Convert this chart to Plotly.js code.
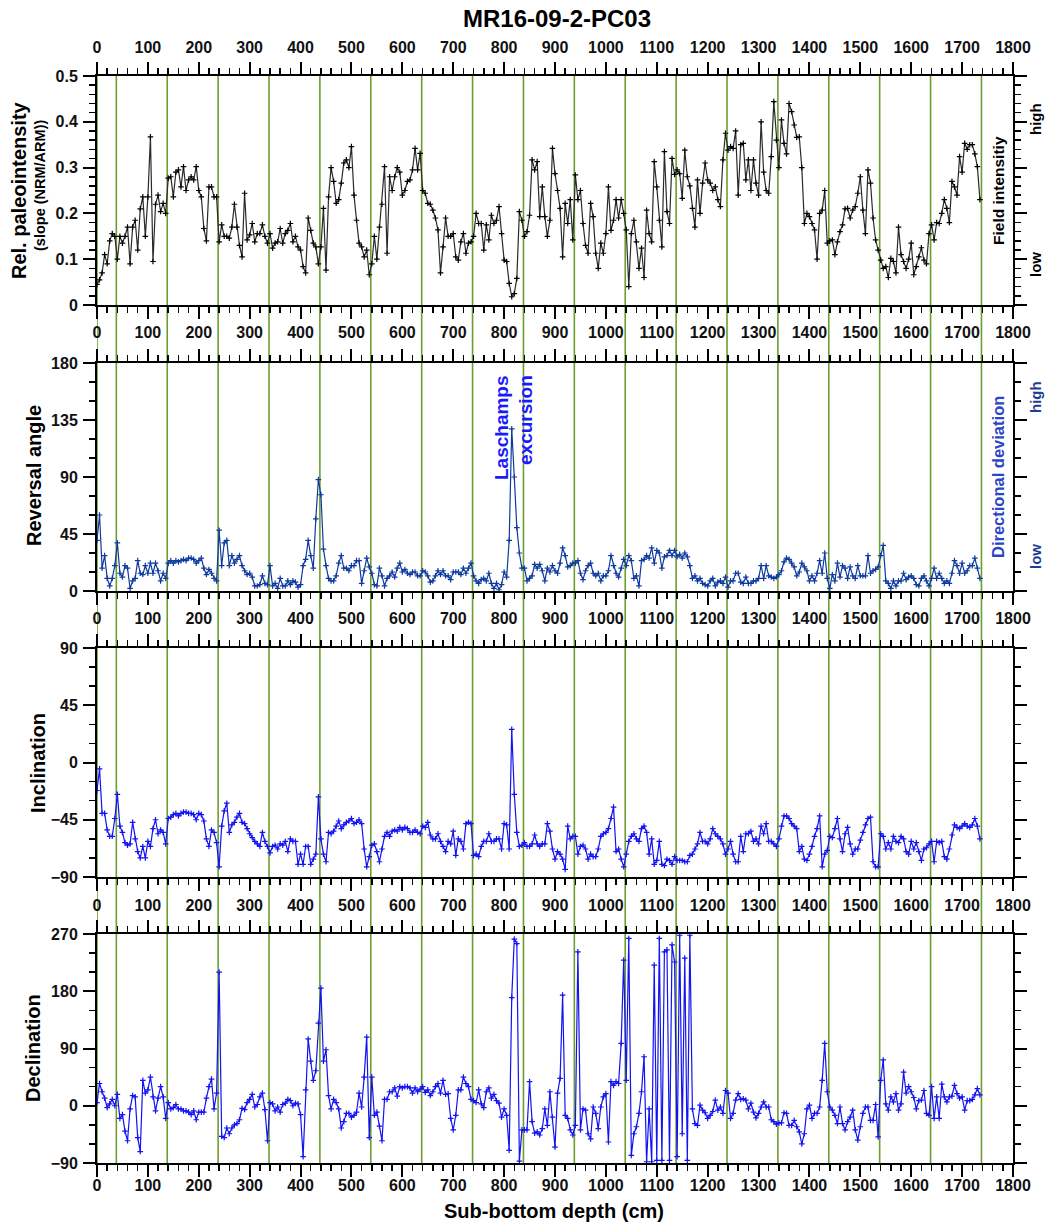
<!DOCTYPE html>
<html><head><meta charset="utf-8">
<script src="https://cdn.plot.ly/plotly-3.0.1.min.js"></script>
<style>html,body{margin:0;padding:0;background:#fff}</style>
</head><body><div id="chart" style="width:1046px;height:1224px"></div>
<script>
// depth sampling (cm): first sample and spacing
const depthStart = 0;
const depthStep = 5;

// Relative paleointensity (slope NRM/ARM)
const rpi = [
0.045,0.055,0.07,0.11,0.09,0.14,0.156,0.15,0.10,0.15,0.135,0.15,0.17,0.09,0.17,0.185,0.12,0.21,0.236,0.15,
0.236,0.367,0.095,0.22,0.24,0.204,0.222,0.2,0.277,0.28,0.236,0.29,0.295,0.258,0.302,0.25,0.273,0.28,0.273,0.302,
0.25,0.236,0.167,0.14,0.258,0.258,0.236,0.236,0.138,0.175,0.15,0.15,0.146,0.17,0.22,0.17,0.13,0.105,0.244,0.142,
0.153,0.178,0.138,0.156,0.156,0.175,0.15,0.135,0.156,0.124,0.135,0.138,0.167,0.135,0.156,0.163,0.178,0.138,0.15,0.127,
0.12,0.084,0.07,0.19,0.163,0.135,0.127,0.09,0.127,0.211,0.076,0.236,0.30,0.27,0.222,0.23,0.266,0.31,0.317,0.30,
0.346,0.24,0.185,0.135,0.127,0.105,0.12,0.066,0.09,0.15,0.10,0.17,0.22,0.302,0.113,0.28,0.25,0.28,0.30,0.29,
0.24,0.25,0.27,0.273,0.295,0.342,0.295,0.331,0.25,0.244,0.222,0.22,0.207,0.19,0.164,0.07,0.127,0.19,0.15,0.15,
0.156,0.105,0.098,0.138,0.156,0.113,0.135,0.138,0.15,0.2,0.178,0.178,0.12,0.175,0.142,0.196,0.178,0.185,0.215,0.156,
0.098,0.095,0.047,0.018,0.025,0.058,0.204,0.185,0.15,0.16,0.196,0.317,0.295,0.313,0.193,0.258,0.193,0.15,0.185,0.342,
0.287,0.25,0.211,0.105,0.222,0.178,0.23,0.142,0.284,0.23,0.25,0.178,0.13,0.113,0.222,0.193,0.113,0.08,0.135,0.113,
0.156,0.258,0.163,0.185,0.23,0.19,0.23,0.2,0.164,0.04,0.156,0.185,0.138,0.08,0.124,0.06,0.207,0.156,0.138,0.313,
0.258,0.185,0.127,0.335,0.204,0.178,0.32,0.285,0.295,0.287,0.233,0.338,0.28,0.26,0.211,0.17,0.273,0.2,0.266,0.31,
0.273,0.266,0.25,0.258,0.23,0.215,0.317,0.375,0.338,0.346,0.342,0.38,0.24,0.35,0.353,0.273,0.317,0.25,0.317,0.266,
0.24,0.40,0.29,0.25,0.244,0.324,0.444,0.36,0.30,0.404,0.353,0.33,0.44,0.422,0.393,0.366,0.367,0.30,0.178,0.2,
0.193,0.178,0.164,0.10,0.2,0.207,0.25,0.135,0.14,0.142,0.11,0.138,0.16,0.175,0.21,0.211,0.19,0.207,0.215,0.244,
0.28,0.207,0.156,0.295,0.266,0.19,0.142,0.12,0.098,0.08,0.084,0.06,0.102,0.095,0.07,0.17,0.11,0.095,0.08,0.10,
0.135,0.066,0.084,0.105,0.125,0.098,0.09,0.156,0.175,0.142,0.18,0.178,0.2,0.23,0.211,0.18,0.27,0.258,0.24,0.324,
0.29,0.353,0.34,0.35,0.35,0.33,0.302,0.23
];

// Reversal angle (deg)
const reversalAngle = [
40,60,18,28,10,4,10,20,38,14,11,20,18,2,8,10,24,14,13,20,
14,22,14,22,16,8,14,10,22,24,22,24,23,24,25,24,26,26,25,22,
24,26,18,13,17,14,10,8,48,20,38,40,20,28,22,25,28,20,16,13,
14,11,4,4,5,12,6,5,20,4,6,2,10,4,4,8,5,8,7,3,
5,20,25,40,28,18,57,88,76,33,20,10,8,8,12,22,28,18,18,16,
20,20,24,24,6,16,26,19,14,5,4,18,12,4,10,12,15,11,18,22,
15,17,14,13,15,15,12,12,16,15,12,7,8,12,16,13,16,12,12,9,
15,15,15,13,18,14,18,22,12,8,6,9,10,8,14,6,2,6,1,5,
15,11,40,128,90,50,30,18,18,8,10,12,21,18,21,16,8,18,15,20,
16,14,22,34,28,19,20,22,22,24,14,9,16,20,22,14,12,14,8,12,
12,16,28,20,14,11,18,25,20,28,24,10,12,4,24,25,28,26,34,22,
32,30,18,27,28,32,28,32,27,29,26,30,27,20,10,12,8,10,6,5,
4,8,10,4,7,8,6,11,3,8,8,14,14,7,6,11,6,6,8,8,
10,20,10,20,12,11,10,11,13,16,23,26,25,22,19,12,15,22,19,16,
8,12,8,14,24,14,30,10,2,13,8,22,11,20,18,10,19,12,10,20,
12,12,12,28,14,16,17,19,28,36,8,6,2,8,4,8,8,14,9,11,
12,10,5,4,10,12,8,4,10,18,10,14,10,6,8,6,14,24,20,14,
22,14,16,20,20,26,18,10
];

// Inclination (deg)
const inclination = [
-22,-5,-40,-40,-53,-58,-58,-44,-25,-50,-55,-63,-65,-64,-47,-60,-70,-75,-66,-75,
-62,-66,-52,-45,-56,-53,-55,-64,-44,-43,-41,-40,-42,-40,-39,-39,-40,-40,-41,-45,
-40,-41,-46,-60,-66,-53,-55,-63,-82,-50,-38,-32,-55,-49,-47,-43,-40,-47,-48,-52,
-56,-59,-62,-64,-66,-55,-62,-66,-71,-66,-65,-68,-64,-65,-62,-70,-60,-62,-62,-80,
-72,-80,-66,-66,-80,-76,-72,-27,-60,-72,-78,-55,-56,-54,-50,-46,-52,-49,-47,-46,
-44,-48,-47,-45,-48,-68,-82,-74,-65,-64,-70,-78,-68,-58,-55,-58,-54,-53,-54,-51,
-53,-51,-52,-55,-55,-53,-55,-56,-50,-51,-47,-57,-60,-60,-56,-62,-66,-70,-62,-64,
-54,-73,-60,-62,-68,-48,-47,-48,-73,-72,-74,-66,-62,-62,-56,-62,-62,-60,-60,-68,
-48,-49,-68,26,-25,-55,-66,-65,-63,-66,-66,-64,-57,-64,-66,-64,-64,-48,-54,-68,
-76,-70,-72,-76,-84,-50,-60,-58,-58,-72,-66,-65,-68,-76,-72,-74,-74,-68,-58,-56,
-55,-52,-44,-35,-70,-68,-76,-82,-72,-62,-58,-56,-60,-62,-52,-50,-55,-72,-60,-80,
-77,-62,-80,-81,-76,-77,-80,-74,-77,-77,-77,-78,-78,-73,-72,-68,-64,-55,-62,-62,
-64,-60,-52,-56,-58,-60,-64,-72,-68,-62,-72,-78,-78,-58,-70,-56,-56,-54,-62,-60,
-64,-50,-56,-48,-62,-62,-64,-66,-60,-50,-42,-42,-44,-48,-50,-52,-70,-66,-76,-77,
-72,-66,-58,-52,-42,-82,-72,-69,-58,-59,-52,-44,-60,-70,-56,-51,-64,-72,-68,-68,
-61,-55,-49,-44,-43,-78,-82,-82,-56,-58,-68,-63,-68,-58,-62,-63,-58,-60,-70,-72,
-62,-68,-63,-70,-77,-68,-67,-64,-62,-78,-62,-63,-62,-74,-76,-68,-57,-49,-51,-52,
-50,-48,-50,-51,-49,-44,-50,-60
];

// Declination (deg)
const declination = [
5,35,22,12,-3,3,10,0,18,-20,-14,-40,-55,-5,16,14,-50,-72,40,20,
25,45,14,-8,12,30,14,-20,5,-5,-3,2,-5,-5,-8,-8,-10,-14,-8,-22,
-10,-10,-10,12,30,42,-5,20,210,-48,-50,-35,-44,-35,-30,-28,-22,-4,-6,5,
10,18,-2,2,14,20,-6,-55,5,3,-8,-2,-10,2,4,10,8,0,4,3,
-14,-80,25,105,70,40,55,130,185,70,88,16,-5,10,5,-5,-35,-25,-12,-12,
-18,-15,-10,20,-2,45,108,-50,45,-15,-10,-32,-55,10,10,22,22,28,15,30,
28,30,30,28,20,28,22,26,30,21,25,16,22,30,35,20,40,18,19,-20,
-38,-15,25,25,45,35,30,10,8,5,25,3,-3,22,28,12,18,8,4,-18,
-5,-15,-70,170,262,255,-87,-38,-38,-38,38,-25,-43,-41,-46,-36,-5,-31,22,-18,
-65,20,43,174,-15,-20,-38,-46,-31,242,-38,-5,-7,-44,-52,-2,-12,-36,-2,14,
19,-57,38,32,38,35,98,229,40,263,-78,-44,-33,-12,22,77,-88,-5,-88,221,
-86,263,-86,242,245,-86,253,226,-80,268,-44,232,-86,268,-5,-28,-31,1,-7,-11,
-20,-15,-9,9,-7,-2,-12,24,20,-20,-12,9,19,10,11,9,-5,4,-10,-19,
-12,-2,6,-2,-2,-22,-25,-29,-27,-27,-11,-12,-31,-31,-23,-33,-41,-60,-44,-5,
1,-20,-12,-12,-2,40,98,22,-2,-7,-15,-28,-2,-28,-38,-25,-18,-7,-38,-54,
-33,-12,-2,-2,-23,-23,2,-49,40,72,3,-7,14,6,19,-7,3,53,20,30,
22,13,-5,8,9,24,-12,-15,30,-20,14,-20,34,14,6,14,15,32,19,12,
14,-7,8,8,10,17,27,17
];

// core section boundaries (cm)
const sectionBoundaries = [0,38,138,238,338,438,538,638,738,838,938,1038,1138,1238,1338,1438,1538,1638,1738];

const W = 1046, H = 1224, ML = 97, MR = 33, MT = 76, MB = 61;
const PW = W - ML - MR, PH = H - MT - MB;
const fx = p => (p - ML) / PW;
const fy = p => (H - MB - p) / PH;

const AF = 'Liberation Sans, Arial, Helvetica, sans-serif';
const TF = {family: AF, size: 16, color: '#111', weight: 'bold'};

function xAxis(anchor, labels, extra) {
  return Object.assign({
    range: [0, 1800], domain: [0, 1], anchor: anchor, side: 'bottom',
    showline: true, linecolor: '#000', linewidth: 2, mirror: 'ticks',
    ticks: 'outside', ticklen: 12, tickwidth: 2, tickcolor: '#000', dtick: 100, tick0: 0,
    minor: {dtick: 20, tick0: 0, ticks: 'outside', ticklen: 6, tickwidth: 1.5, tickcolor: '#000', showgrid: false},
    showgrid: false, zeroline: false, showticklabels: labels, tickfont: TF, fixedrange: true
  }, extra || {});
}
function yAxis(anchor, domain, range, dtick, mdtick, extra) {
  return Object.assign({
    domain: domain, range: range, anchor: anchor,
    showline: true, linecolor: '#000', linewidth: 2, mirror: 'ticks',
    ticks: 'outside', ticklen: 12, tickwidth: 2, tickcolor: '#000', dtick: dtick, tick0: 0,
    minor: {dtick: mdtick, tick0: 0, ticks: 'outside', ticklen: 6, tickwidth: 1.5, tickcolor: '#000', showgrid: false},
    showgrid: false, zeroline: false, tickfont: TF, ticklabelstandoff: 2, fixedrange: true
  }, extra || {});
}

function series(y, xa, ya, color, lineColor) {
  return {
    type: 'scatter', mode: 'lines+markers', x0: depthStart, dx: depthStep, y: y,
    xaxis: xa, yaxis: ya, cliponaxis: true,
    line: {color: lineColor || color, width: 1.2},
    marker: {symbol: 'cross-thin', size: 4, color: color, line: {color: color, width: 1.2}},
    hoverinfo: 'skip', showlegend: false
  };
}

const BLUE = '#1212f2', NAVY = '#0e3a9e';

const data = [
  series(rpi, 'x', 'y', '#000', '#2a2a2a'),
  series(reversalAngle, 'x2', 'y2', NAVY),
  series(inclination, 'x3', 'y3', BLUE),
  series(declination, 'x4', 'y4', BLUE),
  {type: 'scatter', x: [null], y: [null], xaxis: 'x5', yaxis: 'y', showlegend: false, hoverinfo: 'skip'},
  {type: 'scatter', x: [null], y: [null], xaxis: 'x6', yaxis: 'y4', showlegend: false, hoverinfo: 'skip'}
];

function rot(text, x, y, size, color) {
  return {text: text, xref: 'paper', yref: 'paper', x: fx(x), y: fy(y),
    xanchor: 'center', yanchor: 'middle', textangle: -90, showarrow: false,
    font: {family: AF, size: size, color: color || '#000', weight: 'bold'}};
}

const d1 = [fy(305), 1], d2 = [fy(591), fy(363)], d3 = [fy(877), fy(648)], d4 = [0, fy(934)];

const layout = {
  width: W, height: H, margin: {l: ML, r: MR, t: MT, b: MB},
  paper_bgcolor: '#fff', plot_bgcolor: 'rgba(0,0,0,0)', showlegend: false,
  title: {text: 'MR16-09-2-PC03', font: {family: AF, size: 24, color: '#000', weight: 'bold'},
    x: 557 / W, xanchor: 'center', xref: 'container', y: 1 - 19 / H, yanchor: 'middle', yref: 'container'},
  xaxis: xAxis('y', true),
  xaxis5: xAxis('y', true, {overlaying: 'x', side: 'top', mirror: false, ticklabelstandoff: 3}),
  xaxis2: xAxis('y2', true),
  xaxis3: xAxis('y3', false),
  xaxis4: xAxis('y4', true, {ticklabelstandoff: -5}),
  xaxis6: xAxis('y4', true, {overlaying: 'x4', side: 'top', mirror: false, ticklabelstandoff: 3}),
  yaxis: yAxis('x', d1, [0, 0.5], 0.1, 0.02),
  yaxis2: yAxis('x2', d2, [0, 180], 45, 15),
  yaxis3: yAxis('x3', d3, [-90, 90], 45, 15),
  yaxis4: yAxis('x4', d4, [-90, 270], 90, 30),
  shapes: sectionBoundaries.map(b => ({type: 'line', xref: 'x', yref: 'paper', x0: b, x1: b, y0: 0, y1: 1,
    line: {color: '#6c9e2f', width: 1.6}, layer: 'below'})),
  annotations: [
    rot('Rel. paleointensity', 19, 190, 20),
    rot('(slope (NRM/ARM))', 40, 186, 14.5),
    rot('Reversal angle', 34, 476, 20),
    rot('Inclination', 38, 763, 20),
    rot('Declination', 33, 1048, 20),
    rot('high', 1035, 119, 15),
    rot('low', 1035, 265, 15),
    rot('Field intensitiy', 998, 191, 15.5),
    rot('high', 1035, 397, 15, '#1c3d8f'),
    rot('low', 1035, 557, 15, '#1c3d8f'),
    rot('Directional deviation', 998, 477, 16.5, '#2a45c8'),
    rot('Laschamps', 501, 428, 19, '#1a1aff'),
    rot('excursion', 525, 420, 19, '#1a1aff'),
    {text: 'Sub-bottom depth (cm)', xref: 'paper', yref: 'paper', x: fx(554), y: fy(1211),
      xanchor: 'center', yanchor: 'middle', showarrow: false,
      font: {family: AF, size: 20, color: '#000', weight: 'bold'}}
  ]
};

Plotly.newPlot('chart', data, layout, {staticPlot: true, displayModeBar: false});
</script>
</body></html>
